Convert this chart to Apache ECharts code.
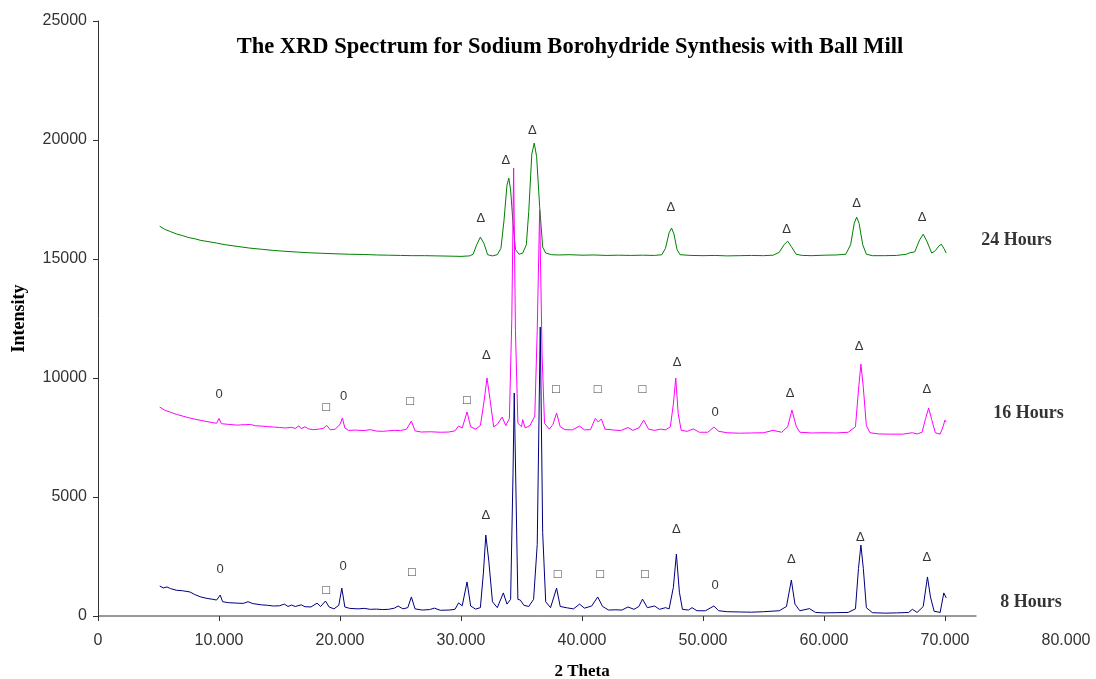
<!DOCTYPE html>
<html lang="en">
<head>
    <meta charset="UTF-8">
    <title>XRD Spectrum</title>
    <script src="https://cdn.jsdelivr.net/npm/echarts@6/dist/echarts.min.js"></script>
    <style>
        html, body { margin: 0; padding: 0; background: #fff; }
        #chart { width: 1096px; height: 679px; }
    </style>
</head>
<body>
<div id="chart"></div>
<script type="text/javascript">
// 2 theta vs intensity
var hours24 = [
  [5.1,16380],[5.5,16250],[6,16150],[6.5,16050],[7,15980],[7.5,15900],[8,15850],[8.5,15780],[9,15740],[9.8,15670],
  [10.5,15600],[11.5,15530],[12.5,15460],[13.5,15410],[14.5,15360],[15.3,15330],[16.5,15290],[17.5,15260],[18.5,15240],
  [19.5,15220],[20.8,15200],[22,15190],[23,15170],[24,15160],[25,15150],[26,15140],[27,15140],[28,15130],[29.1,15120],
  [30,15110],[30.7,15130],[31.0,15200],[31.3,15600],[31.6,15920],[31.9,15650],[32.2,15180],[32.6,15130],[33.0,15180],
  [33.3,15450],[33.55,16600],[33.8,18100],[33.95,18400],[34.1,17900],[34.3,16500],[34.5,15400],[34.8,15200],[35.1,15250],
  [35.4,15600],[35.6,17000],[35.85,19400],[36.05,19870],[36.25,19300],[36.5,17200],[36.75,15500],[37.0,15250],[37.5,15180],
  [38,15170],[39,15180],[40,15160],[41,15170],[42,15150],[43,15160],[44,15150],[45,15160],[46,15150],[46.6,15180],
  [46.9,15450],[47.2,16100],[47.4,16300],[47.6,16050],[47.85,15400],[48.1,15180],[49,15150],[50,15140],[51,15150],
  [52,15130],[53,15140],[54,15150],[55,15140],[55.8,15160],[56.3,15280],[56.7,15600],[57.0,15750],[57.3,15520],
  [57.7,15200],[58.2,15150],[59,15140],[60,15160],[61,15170],[61.8,15200],[62.2,15600],[62.5,16500],[62.7,16760],
  [62.9,16500],[63.2,15600],[63.5,15200],[64,15140],[65,15140],[66,15150],[66.8,15200],[67.1,15260],[67.5,15300],
  [67.9,15800],[68.2,16040],[68.5,15750],[68.9,15250],[69.2,15350],[69.5,15550],[69.7,15620],[69.9,15450],[70.1,15250]
];
var hours16 = [
  [5.1,8780],[5.5,8650],[6,8560],[6.5,8470],[7,8400],[7.5,8330],[8,8270],[8.5,8220],[9,8170],[9.5,8120],[9.8,8100],
  [10.0,8300],[10.2,8080],[10.8,8050],[11.5,8020],[12.2,8040],[12.6,8050],[13,7990],[13.5,7980],[14,7960],[14.5,7940],
  [15,7920],[15.5,7900],[16,7930],[16.3,7880],[16.6,7990],[16.8,7870],[17.1,7950],[17.4,7860],[17.8,7830],[18.2,7850],
  [18.6,7880],[18.9,8010],[19.2,7820],[19.6,7850],[20.0,8050],[20.2,8320],[20.4,7900],[20.7,7800],[21.3,7810],[22,7790],
  [22.5,7830],[23,7770],[23.5,7760],[24,7780],[24.5,7800],[25,7790],[25.5,7850],[25.9,8190],[26.2,7780],[26.7,7730],
  [27.5,7740],[28.3,7720],[29,7730],[29.5,7780],[29.8,7980],[30.1,7900],[30.5,8570],[30.8,7950],[31.2,7850],[31.6,8000],
  [31.9,9000],[32.15,10000],[32.4,9100],[32.7,7950],[33.0,8050],[33.4,8360],[33.7,8000],[34.0,8300],[34.2,12500],
  [34.35,18820],[34.5,12000],[34.7,8100],[35.0,7950],[35.1,8250],[35.3,7900],[35.7,8000],[36.1,8400],[36.3,12000],
  [36.5,17050],[36.7,11000],[36.9,8100],[37.3,7850],[37.6,8050],[37.9,8530],[38.2,7950],[38.6,7830],[39.2,7820],
  [39.8,7980],[40.2,7820],[40.7,7830],[41.1,8300],[41.35,8150],[41.6,8280],[41.9,7850],[42.5,7820],[43.2,7790],
  [43.8,7920],[44.2,7800],[44.7,7900],[45.1,8230],[45.5,7850],[46,7800],[46.5,7850],[46.9,7820],[47.3,7950],[47.55,8900],
  [47.75,10000],[47.95,8500],[48.2,7800],[48.7,7760],[49.2,7860],[49.7,7720],[50.4,7720],[50.9,7940],[51.3,7760],
  [52,7700],[53,7680],[54,7690],[55,7700],[55.8,7800],[56.5,7720],[57.0,7950],[57.35,8650],[57.7,7980],[58.0,7720],
  [59,7690],[60,7700],[61,7690],[62,7720],[62.6,7950],[62.85,9500],[63.05,10580],[63.25,9600],[63.5,8000],[63.8,7700],
  [64.5,7650],[65.5,7640],[66.5,7640],[67.3,7700],[67.7,7650],[68.1,7720],[68.4,8300],[68.65,8740],[68.9,8250],
  [69.2,7700],[69.6,7640],[69.8,7900],[70.0,8230],[70.1,8150]
];
var hours8 = [
  [5.1,1260],[5.4,1180],[5.7,1220],[6,1150],[6.5,1080],[7,1060],[7.6,1010],[8,900],[8.5,800],[9,740],[9.5,700],[9.8,670],
  [10.1,880],[10.3,600],[10.8,560],[11.5,540],[12,530],[12.4,600],[12.8,520],[13.5,470],[14,450],[14.5,420],[15,430],
  [15.4,500],[15.7,400],[16,460],[16.3,400],[16.8,470],[17.1,390],[17.6,380],[18.1,540],[18.4,400],[18.8,630],[19.1,380],
  [19.5,300],[19.9,450],[20.15,1170],[20.4,380],[20.8,320],[21.5,300],[22,320],[22.5,280],[23,290],[23.5,270],[24,280],
  [24.5,330],[24.8,420],[25.2,300],[25.6,350],[25.9,800],[26.2,300],[26.8,250],[27.4,270],[27.8,330],[28.3,240],[29,250],
  [29.5,280],[29.8,550],[30.1,430],[30.5,1430],[30.8,420],[31.2,290],[31.6,350],[31.85,1800],[32.05,3400],[32.3,2300],
  [32.6,600],[33.0,350],[33.5,970],[33.8,500],[34.1,700],[34.3,6000],[34.4,9370],[34.55,5000],[34.7,700],[34.9,670],
  [35.2,450],[35.6,400],[36.0,700],[36.3,3000],[36.55,12140],[36.75,3500],[37.0,600],[37.4,350],[37.9,1170],[38.2,400],
  [38.8,340],[39.3,300],[39.8,500],[40.2,330],[40.8,420],[41.3,800],[41.7,400],[42.2,250],[42.8,260],[43.3,250],[43.8,380],
  [44.3,280],[44.7,400],[45.0,710],[45.4,350],[46.0,420],[46.4,280],[46.9,350],[47.2,300],[47.55,1200],[47.8,2600],
  [48.05,1000],[48.3,280],[48.8,250],[49.1,350],[49.5,220],[50.2,220],[50.9,420],[51.3,220],[52,180],[53,170],[54,160],
  [55,180],[56.3,220],[56.9,400],[57.3,1510],[57.6,500],[58,220],[58.8,310],[59.3,150],[60,130],[61,140],[62,150],
  [62.6,300],[62.85,2000],[63.05,2980],[63.25,2000],[63.5,350],[64,140],[65,120],[66,130],[67,150],[67.3,280],[67.7,150],
  [68.2,400],[68.55,1640],[68.8,800],[69.1,200],[69.6,150],[69.9,970],[70.1,760]
];

// peak markers: [2 theta, intensity, glyph]
var marks24 = [
  [31.65,16720,'Δ'],[33.7,19150,'Δ'],[35.9,20400,'Δ'],[47.35,17180,'Δ'],[56.9,16250,'Δ'],[62.7,17350,'Δ'],[68.1,16760,'Δ']
];
var marks16 = [
  [10.0,9320,'0'],[18.85,8780,'□'],[20.3,9240,'0'],[25.8,9030,'□'],[30.5,9070,'□'],[32.1,10960,'Δ'],[37.85,9530,'□'],
  [41.3,9530,'□'],[45.0,9530,'□'],[47.85,10670,'Δ'],[51.0,8570,'0'],[57.2,9370,'Δ'],[62.9,11340,'Δ'],[68.5,9530,'Δ']
];
var marks8 = [
  [10.1,1970,'0'],[18.85,1090,'□'],[20.25,2100,'0'],[25.95,1850,'□'],[32.05,4240,'Δ'],[38.0,1760,'□'],[41.5,1760,'□'],
  [45.2,1760,'□'],[47.8,3650,'Δ'],[51.0,1300,'0'],[57.3,2390,'Δ'],[63.0,3320,'Δ'],[68.5,2480,'Δ']
];
var seriesNames = [
  [75.9,15790,'24 Hours'],[76.9,8530,'16 Hours'],[77.1,590,'8 Hours']
];

var xTicks = [0,10,20,30,40,50,60,70];
var axisEnd = [[0,0],[72.6,0]];

var chart = echarts.init(document.getElementById('chart'));

function markSeries(data) {
  return {
    type: 'scatter',
    data: data,
    symbol: 'circle',
    symbolSize: 1,
    itemStyle: { color: 'rgba(0,0,0,0)' },
    silent: true,
    z: 5,
    label: {
      show: true,
      position: 'inside',
      formatter: function (p) { return p.value[2]; },
      color: '#000',
      fontSize: 13,
      fontFamily: 'Arial, "Liberation Sans", "DejaVu Sans"'
    }
  };
}

var option = {
  animation: false,
  backgroundColor: '#fff',
  title: {
    text: 'The XRD Spectrum for Sodium Borohydride Synthesis with Ball Mill',
    left: 565,
    top: 31,
    textAlign: 'center',
    textStyle: {
      fontFamily: '"Liberation Serif", "Times New Roman", serif',
      fontWeight: 'bold',
      fontSize: 22.5,
      color: '#000'
    }
  },
  grid: { left: 98, right: 30, top: 21, bottom: 63, containLabel: false, outerBoundsMode: 'none' },
  xAxis: {
    type: 'value',
    min: 0,
    max: 80,
    interval: 10,
    name: '2 Theta',
    nameLocation: 'middle',
    nameGap: 47,
    nameTextStyle: {
      fontFamily: '"Liberation Serif", "Times New Roman", serif',
      fontWeight: 'bold',
      fontSize: 17,
      color: '#000'
    },
    axisLine: { show: false },
    axisTick: { show: true, customValues: xTicks, length: 5, lineStyle: { color: '#333' } },
    axisLabel: {
      margin: 17,
      color: '#333',
      fontSize: 16,
      fontFamily: 'Arial, "Liberation Sans", sans-serif',
      formatter: function (v) { return v === 0 ? '0' : v.toFixed(3); }
    },
    splitLine: { show: false }
  },
  yAxis: {
    type: 'value',
    min: 0,
    max: 25000,
    interval: 5000,
    name: 'Intensity',
    nameLocation: 'middle',
    nameGap: 70,
    nameTextStyle: {
      fontFamily: '"Liberation Serif", "Times New Roman", serif',
      fontWeight: 'bold',
      fontSize: 18,
      color: '#000'
    },
    axisLine: { show: true, lineStyle: { color: '#333' } },
    axisTick: { show: true, length: 5, lineStyle: { color: '#333' } },
    axisLabel: {
      margin: 11,
      color: '#333',
      fontSize: 16,
      fontFamily: 'Arial, "Liberation Sans", sans-serif',
      formatter: function (v) { return String(v); }
    },
    splitLine: { show: false }
  },
  series: [
    {
      type: 'line', data: axisEnd, symbol: 'none', silent: true, clip: false,
      lineStyle: { color: '#333', width: 1 }
    },
    {
      name: '24 Hours', type: 'line', data: hours24, symbol: 'none',
      lineStyle: { color: '#008000', width: 1 }
    },
    {
      name: '16 Hours', type: 'line', data: hours16, symbol: 'none',
      lineStyle: { color: '#ff00ff', width: 1 }
    },
    {
      name: '8 Hours', type: 'line', data: hours8, symbol: 'none',
      lineStyle: { color: '#000080', width: 1 }
    },
    markSeries(marks24),
    markSeries(marks16),
    markSeries(marks8),
    {
      type: 'scatter',
      data: seriesNames,
      symbolSize: 1,
      itemStyle: { color: 'rgba(0,0,0,0)' },
      silent: true,
      clip: false,
      label: {
        show: true,
        position: 'inside',
        formatter: function (p) { return p.value[2]; },
        color: '#000',
        fontSize: 18,
        fontWeight: 'bold',
        fontFamily: '"Liberation Serif", "Times New Roman", serif'
      }
    }
  ]
};

chart.setOption(option);
</script>
</body>
</html>
